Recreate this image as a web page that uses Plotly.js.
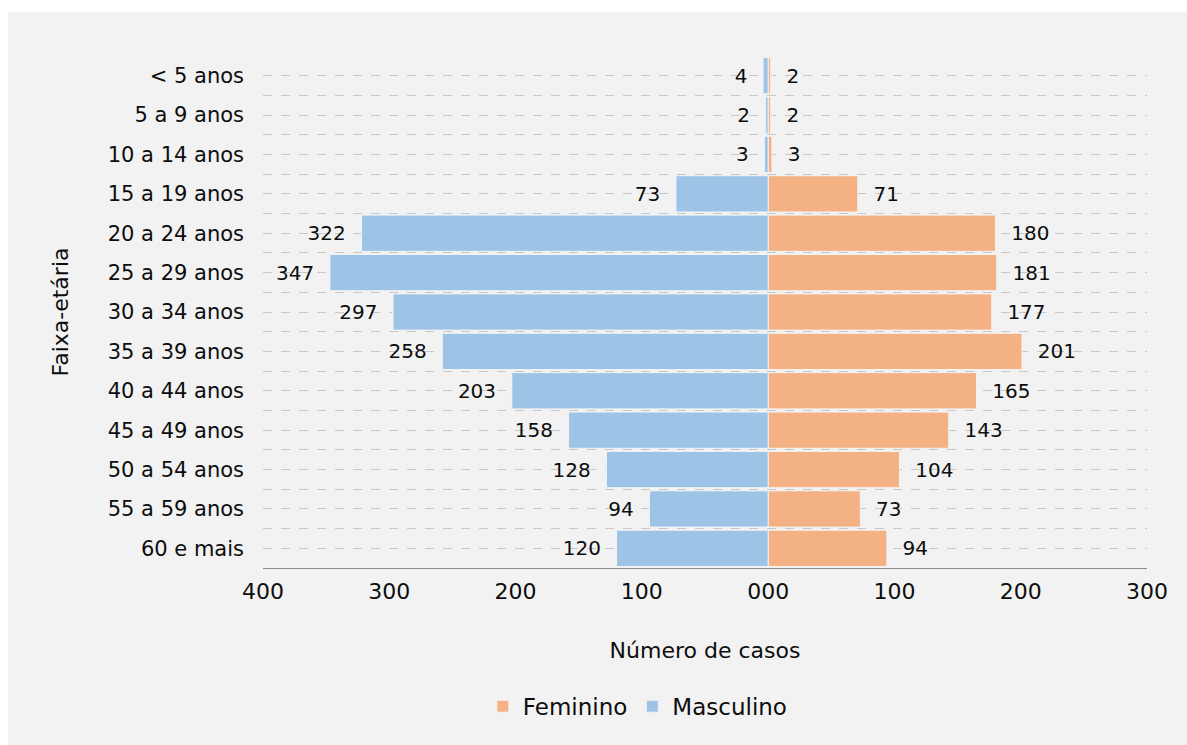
<!DOCTYPE html>
<html>
<head>
<meta charset="utf-8">
<script src="https://cdn.plot.ly/plotly-3.0.1.min.js"></script>
<style>
html,body{margin:0;padding:0;background:#ffffff;}
#chart{position:absolute;left:8px;top:12px;width:1179px;height:733px;}
</style>
</head>
<body>
<div id="chart"></div>
<script>
const faixas = ["< 5 anos","5 a 9 anos","10 a 14 anos","15 a 19 anos","20 a 24 anos","25 a 29 anos","30 a 34 anos","35 a 39 anos","40 a 44 anos","45 a 49 anos","50 a 54 anos","55 a 59 anos","60 e mais"];
const feminino = [2,2,3,71,180,181,177,201,165,143,104,73,94];
const masculino = [4,2,3,73,322,347,297,258,203,158,128,94,120];
const xTickVals = [-400,-300,-200,-100,0,100,200,300];
const xTickText = ["400","300","200","100","000","100","200","300"];

const idx = faixas.map((_, i) => i);
const font = "'DejaVu Sans', sans-serif";
const pad = "\u00a0\u00a0";

const traces = [
  {
    type: "bar", orientation: "h", name: "Feminino",
    y: idx, x: feminino,
    text: feminino.map(v => pad + v), textposition: "outside",
    textfont: {family: font, size: 20, color: "#0d0d0d"},
    marker: {color: "#f4b183", line: {color: "#f2f2f2", width: 1}},
    cliponaxis: false, hoverinfo: "skip"
  },
  {
    type: "bar", orientation: "h", name: "Masculino",
    y: idx, x: masculino.map(v => -v),
    text: masculino.map(v => v + pad), textposition: "outside",
    textfont: {family: font, size: 20, color: "#0d0d0d"},
    marker: {color: "#9dc3e6", line: {color: "#f2f2f2", width: 1}},
    cliponaxis: false, hoverinfo: "skip"
  }
];

const layout = {
  width: 1179, height: 733,
  paper_bgcolor: "#f2f2f2", plot_bgcolor: "#f2f2f2",
  margin: {l: 255, r: 40, t: 44, b: 177},
  barmode: "relative", bargap: 0.08,
  font: {family: font, size: 20, color: "#0d0d0d"},
  xaxis: {
    range: [-400, 300], tickvals: xTickVals, ticktext: xTickText,
    showgrid: false, zeroline: false,
    showline: true, linecolor: "#8c8c8c", linewidth: 1,
    ticks: "", ticklen: 0, ticklabelstandoff: 4,
    tickfont: {family: font, size: 22, color: "#0d0d0d"},
    title: {text: "Número de casos", font: {family: font, size: 22, color: "#0d0d0d"}, standoff: 39}
  },
  yaxis: {
    range: [12.5, -0.5], tickvals: idx, ticktext: faixas,
    showgrid: true, gridcolor: "#c8c8c8", griddash: "dash", gridwidth: 1,
    minor: {tick0: 0.5, dtick: 1, showgrid: true, gridcolor: "#c8c8c8", griddash: "dash", gridwidth: 1},
    zeroline: false, showline: false, ticks: "",
    ticklabelstandoff: 18,
    tickfont: {family: font, size: 21, color: "#0d0d0d"},
    title: {text: "Faixa-etária", font: {family: font, size: 22, color: "#0d0d0d"}, standoff: 32}
  },
  legend: {
    orientation: "h", x: 0.424, xanchor: "center", y: -0.27, yanchor: "middle",
    font: {family: font, size: 23, color: "#0d0d0d"},
    traceorder: "normal", itemwidth: 30
  },
  showlegend: true
};

Plotly.newPlot("chart", traces, layout, {displayModeBar: false, staticPlot: true});
</script>
</body>
</html>
